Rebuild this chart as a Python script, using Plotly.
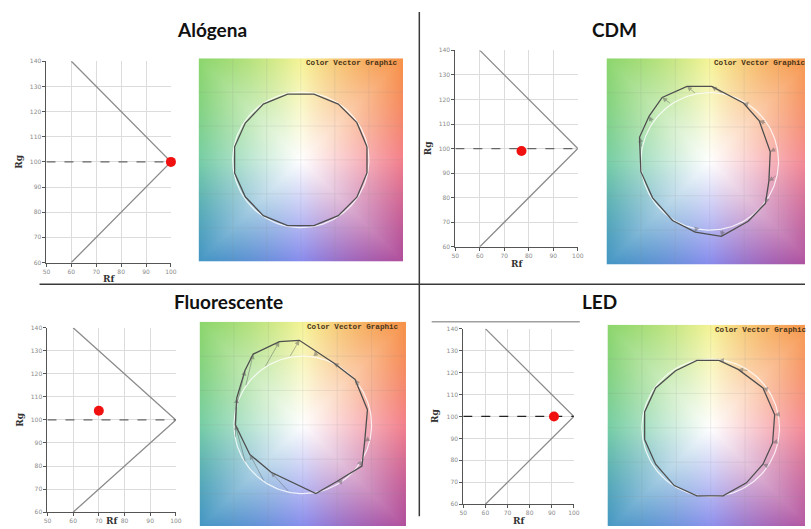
import base64
import struct
import zlib

import numpy as np
import plotly.graph_objects as go

W, H = 811, 529

# ---------------------------------------------------------------- data
LAMPS = ["Alógena", "CDM", "Fluorescente", "LED"]

# IES TM-30 fidelity (Rf) and gamut (Rg) indices of each lamp
RF = [100, 77, 70, 91]
RG = [100, 99, 104, 100]

# Rf-Rg chart frame: gamut boundary and the Rg = 100 reference
GAMUT_RF = [60, 100, 60]
GAMUT_RG = [140, 100, 60]
REF_RF = [50, 100]
REF_RG = [100, 100]
RF_TICKS = [50, 60, 70, 80, 90, 100]
RG_TICKS = [60, 70, 80, 90, 100, 110, 120, 130, 140]

# the 16 TM-30 hue-bin centre angles (degrees)
HUE_BINS = [11.25, 33.75, 56.25, 78.75, 101.25, 123.75, 146.25, 168.75,
            191.25, 213.75, 236.25, 258.75, 281.25, 303.75, 326.25, 348.75]

# test-source colour vector vertices, one per hue bin (reference circle r = 1)
ALOGENA_R = [0.99, 0.99, 0.99, 0.99, 0.99, 0.99, 0.98, 0.99,
             0.99, 0.98, 0.99, 0.99, 0.99, 0.99, 0.99, 0.99]
ALOGENA_X = [r * np.cos(np.radians(a)) for r, a in zip(ALOGENA_R, HUE_BINS)]
ALOGENA_Y = [r * np.sin(np.radians(a)) for r, a in zip(ALOGENA_R, HUE_BINS)]

CDM_X = [0.88, 0.72, 0.49, 0.03, -0.33, -0.69, -0.88, -1.02,
         -1.00, -0.83, -0.54, -0.21, 0.17, 0.56, 0.81, 0.86]
CDM_Y = [0.14, 0.59, 0.85, 1.09, 1.09, 0.93, 0.66, 0.35,
         -0.15, -0.53, -0.86, -1.03, -1.09, -0.87, -0.61, -0.29]

FLUO_X = [0.94, 0.76, 0.45, 0.18, -0.05, -0.34, -0.72, -0.84,
          -0.96, -0.98, -0.77, -0.46, 0.19, 0.50, 0.86, 0.90]
FLUO_Y = [0.22, 0.66, 0.90, 1.08, 1.23, 1.21, 1.03, 0.79,
          0.39, 0.00, -0.43, -0.69, -1.00, -0.82, -0.60, -0.24]

LED_X = [0.93, 0.76, 0.40, 0.12, -0.20, -0.51, -0.80, -0.96,
         -0.96, -0.80, -0.53, -0.20, 0.18, 0.52, 0.76, 0.90]
LED_Y = [0.19, 0.58, 0.85, 0.98, 0.98, 0.83, 0.58, 0.23,
         -0.17, -0.53, -0.84, -0.99, -0.99, -0.80, -0.53, -0.22]

CVG_X = [ALOGENA_X, CDM_X, FLUO_X, LED_X]
CVG_Y = [ALOGENA_Y, CDM_Y, FLUO_Y, LED_Y]

# background hue wheel of the colour vector graphic (angle -> colour at the edge)
WHEEL_ANGLES = [0, 45, 90, 135, 180, 225, 270, 315]
WHEEL_COLORS = [(244, 128, 140), (247, 146, 72), (246, 244, 150), (140, 214, 108),
                (118, 206, 165), (68, 150, 196), (136, 140, 238), (176, 78, 156)]

# ---------------------------------------------------------------- layout boxes (px)
TITLE_POS = [(211, 26), (618, 26), (227, 301), (603, 301)]
CHART_BOX = [(43, 169, 58, 262), (457, 581, 47, 246), (44, 174, 328, 515), (465, 577, 329, 507)]
CVG_BOX = [(197, 404, 55, 261), (610, 819, 55, 264), (198, 407, 322, 531), (611, 820, 325, 534)]


def px_x(x):
    return x / W


def px_y(y):
    return 1 - y / H


def wheel_png(n=160):
    """Hue wheel background rendered to a PNG data URI."""
    c = (np.arange(n) + 0.5) / n * 3 - 1.5
    xx, yy = np.meshgrid(c, -c)
    ang = np.degrees(np.arctan2(yy, xx)) % 360
    angs = np.array(WHEEL_ANGLES + [360], dtype=float)
    cols = np.array(WHEEL_COLORS + [WHEEL_COLORS[0]], dtype=float)
    edge = np.stack([np.interp(ang, angs, cols[:, k]) for k in range(3)], axis=-1)
    r = np.hypot(xx, yy)
    rmax = 1.5 / np.maximum(np.abs(np.cos(np.radians(ang))), np.abs(np.sin(np.radians(ang))))
    s = np.clip(r / rmax, 0, 1)[..., None] ** 1.05
    img = 255 - (255 - edge) * s
    img = np.clip(img, 0, 255).astype(np.uint8)
    raw = b"".join(b"\x00" + img[i].tobytes() for i in range(n))

    def chunk(tag, data):
        body = tag + data
        return struct.pack(">I", len(data)) + body + struct.pack(">I", zlib.crc32(body) & 0xFFFFFFFF)

    png = (b"\x89PNG\r\n\x1a\n"
           + chunk(b"IHDR", struct.pack(">IIBBBBB", n, n, 8, 2, 0, 0, 0))
           + chunk(b"IDAT", zlib.compress(raw, 9))
           + chunk(b"IEND", b""))
    return "data:image/png;base64," + base64.b64encode(png).decode()


WHEEL = wheel_png()

fig = go.Figure()
layout = dict(
    width=W, height=H, margin=dict(l=0, r=0, t=0, b=0),
    paper_bgcolor="white", plot_bgcolor="white", showlegend=False,
    annotations=[], shapes=[], images=[],
)

tick_font = dict(family="DejaVu Sans", size=6, color="#8a8a8a")
lab_font = dict(family="DejaVu Serif", size=9, color="#333333")

for k, lamp in enumerate(LAMPS):
    # ---------------- Rf-Rg chart
    n = 2 * k + 1
    xa, ya = f"x{n}", f"y{n}"
    l, r, t, b = CHART_BOX[k]
    ref_color = "#222222" if lamp == "LED" else "#666666"
    fig.add_trace(go.Scatter(x=GAMUT_RF, y=GAMUT_RG, mode="lines", xaxis=xa, yaxis=ya,
                             line=dict(color="#8c8c8c", width=1.3), hoverinfo="skip"))
    fig.add_trace(go.Scatter(x=REF_RF, y=REF_RG, mode="lines", xaxis=xa, yaxis=ya,
                             line=dict(color=ref_color, width=1.2, dash="dash"), hoverinfo="skip"))
    fig.add_trace(go.Scatter(x=[RF[k]], y=[RG[k]], mode="markers", xaxis=xa, yaxis=ya,
                             marker=dict(color="#f01010", size=10), cliponaxis=False,
                             name=lamp))
    axis_common = dict(showgrid=True, gridcolor="#dcdcdc", gridwidth=1, zeroline=False,
                       showline=True, linecolor="#555555", linewidth=1, ticks="outside",
                       ticklen=3, tickcolor="#555555", tickfont=tick_font, fixedrange=True)
    layout[f"xaxis{n}"] = dict(domain=[px_x(l), px_x(r)], anchor=ya, range=[50, 100],
                               tickvals=RF_TICKS, **axis_common)
    layout[f"yaxis{n}"] = dict(domain=[px_y(b), px_y(t)], anchor=xa, range=[60, 140],
                               tickvals=RG_TICKS, **axis_common)
    layout["annotations"].append(dict(
        text="<b>Rg</b>", xref="paper", yref="paper", x=px_x(l - 28), y=px_y((t + b) / 2),
        showarrow=False, textangle=-90, font=lab_font, xanchor="center", yanchor="middle"))
    rf_top = min(b + 10, H - 12)
    layout["annotations"].append(dict(
        text="<b>Rf</b>", xref="paper", yref="paper", x=px_x((l + r) / 2), y=px_y(rf_top),
        showarrow=False, font=lab_font, xanchor="center", yanchor="top"))

    # ---------------- colour vector graphic
    n = 2 * k + 2
    xa, ya = f"x{n}", f"y{n}"
    l, r, t, b = CVG_BOX[k]
    vr, vb = min(r, W), min(b, H)
    xr = [-1.5, -1.5 + 3 * (vr - l) / (r - l)]
    yr = [1.5 - 3 * (vb - t) / (b - t), 1.5]
    layout[f"xaxis{n}"] = dict(domain=[px_x(l), px_x(vr)], anchor=ya, range=xr,
                               visible=False, fixedrange=True)
    layout[f"yaxis{n}"] = dict(domain=[px_y(vb), px_y(t)], anchor=xa, range=yr,
                               visible=False, fixedrange=True)
    layout["images"].append(dict(source=WHEEL, xref=xa, yref=ya, x=-1.5, y=1.5,
                                 sizex=3, sizey=3, xanchor="left", yanchor="top",
                                 sizing="stretch", layer="below"))
    # faint grid of the graphic
    gx, gy = [], []
    for g in (-1.0, -0.5, 0.0, 0.5, 1.0):
        gx += [g, g, None, -1.5, 1.5, None]
        gy += [-1.5, 1.5, None, g, g, None]
    fig.add_trace(go.Scatter(x=gx, y=gy, mode="lines", xaxis=xa, yaxis=ya,
                             line=dict(color="rgba(140,140,140,0.14)", width=1), hoverinfo="skip"))
    # reference circle
    th = np.linspace(0, 2 * np.pi, 181)
    fig.add_trace(go.Scatter(x=np.cos(th), y=np.sin(th), mode="lines", xaxis=xa, yaxis=ya,
                             line=dict(color="rgba(255,255,255,0.8)", width=1.2), hoverinfo="skip"))
    # test source polygon
    px_ = list(CVG_X[k]) + [CVG_X[k][0]]
    py_ = list(CVG_Y[k]) + [CVG_Y[k][0]]
    fig.add_trace(go.Scatter(x=px_, y=py_, mode="lines", xaxis=xa, yaxis=ya,
                             line=dict(color="#4f4f4f", width=1.3), hoverinfo="skip"))
    # hue-bin vectors from reference to test
    for a, tx, ty in zip(HUE_BINS, CVG_X[k], CVG_Y[k]):
        rx, ry = np.cos(np.radians(a)), np.sin(np.radians(a))
        if np.hypot(tx - rx, ty - ry) > 0.05:
            layout["annotations"].append(dict(
                x=tx, y=ty, ax=rx, ay=ry, xref=xa, yref=ya, axref=xa, ayref=ya, text="",
                showarrow=True, arrowhead=2, arrowsize=1.1, arrowwidth=0.9,
                arrowcolor="rgba(95,95,95,0.5)"))
    layout["annotations"].append(dict(
        text="<b>Color Vector Graphic</b>", xref="paper", yref="paper",
        x=px_x(l + 107), y=px_y(t + 5), xanchor="left", yanchor="middle", showarrow=False,
        font=dict(family="Liberation Mono", size=7.6, color="#4a3418")))

    # ---------------- panel title
    tx_, ty_ = TITLE_POS[k]
    layout["annotations"].append(dict(
        text=f"<b>{lamp}</b>", xref="paper", yref="paper", x=px_x(tx_), y=px_y(ty_),
        xanchor="center", yanchor="middle", showarrow=False,
        font=dict(family="Lato", size=19, color="#111111")))

# panel dividers
layout["shapes"] += [
    dict(type="line", xref="paper", yref="paper", x0=px_x(36), x1=1, y0=px_y(284), y1=px_y(284),
         line=dict(color="#3a3a3a", width=1.5)),
    dict(type="line", xref="paper", yref="paper", x0=px_x(420.5), x1=px_x(420.5), y0=px_y(8),
         y1=px_y(519), line=dict(color="#3a3a3a", width=1.5)),
    dict(type="line", xref="paper", yref="paper", x0=px_x(433), x1=px_x(583), y0=px_y(322),
         y1=px_y(322), line=dict(color="#a0a0a0", width=1.6)),
]

fig.update_layout(**layout)
fig.write_html("out.html")
